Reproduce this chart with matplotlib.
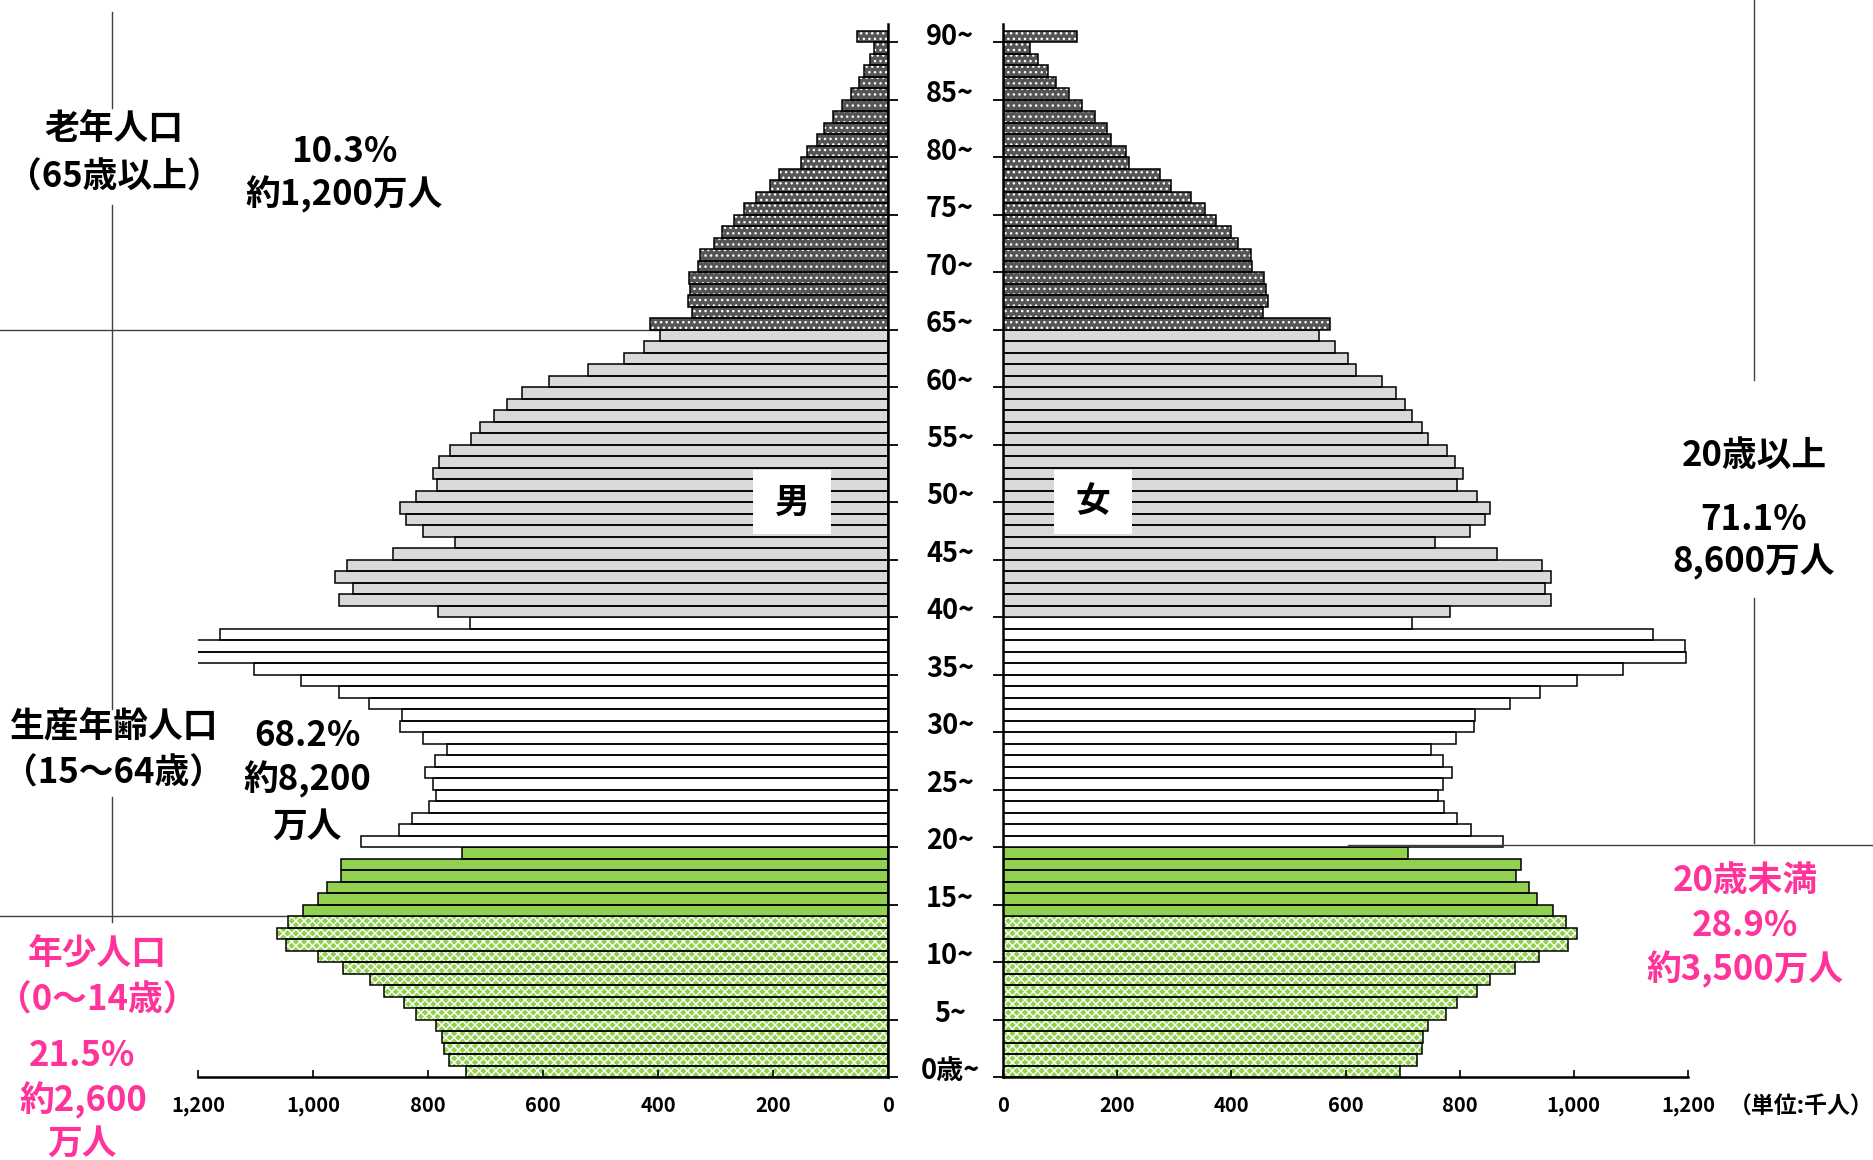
import matplotlib
matplotlib.use('Agg')
import matplotlib.pyplot as plt
from matplotlib import transforms
from matplotlib.lines import Line2D
from matplotlib.patches import Rectangle

plt.rcParams['font.family'] = ['Noto Sans CJK JP', 'DejaVu Sans']
plt.rcParams['font.weight'] = 'bold'
plt.rcParams['hatch.linewidth'] = 1.0

# 年齢（0歳〜90歳以上）
ages = list(range(0, 91))

# 男性人口（千人）, 0歳から90歳~
male = [734, 764, 772, 776, 786, 821, 842, 876, 900, 947,
        991, 1047, 1062, 1044, 1018, 992, 976, 951, 952, 740,
        917, 851, 827, 798, 786, 791, 806, 787, 767, 809,
        848, 845, 903, 955, 1021, 1103, 1225, 1220, 1162, 727,
        783, 955, 930, 961, 941, 860, 753, 808, 838, 849,
        821, 785, 792, 781, 762, 726, 709, 686, 662, 637,
        590, 522, 459, 424, 397, 414, 340, 347, 344, 346,
        330, 327, 303, 289, 267, 250, 230, 206, 189, 151,
        140, 123, 112, 95, 80, 64, 51, 42, 31, 24,
        54]

# 女性人口（千人）
female = [695, 726, 734, 735, 744, 776, 796, 831, 853, 897,
          939, 990, 1006, 987, 964, 935, 922, 899, 908, 710,
          876, 819, 796, 773, 762, 770, 787, 770, 750, 793,
          825, 827, 888, 941, 1006, 1086, 1196, 1194, 1138, 717,
          783, 960, 949, 960, 944, 865, 757, 818, 844, 853,
          831, 796, 806, 792, 777, 745, 734, 716, 704, 688,
          664, 618, 604, 581, 553, 573, 456, 465, 460, 458,
          437, 434, 412, 400, 373, 353, 329, 294, 275, 221,
          215, 190, 182, 161, 138, 116, 92, 79, 62, 47,
          129]

age_ticks = list(range(0, 91, 5))
age_labels = ['0歳~'] + ['%d~' % a for a in age_ticks[1:]]
x_ticks = [0, 200, 400, 600, 800, 1000, 1200]
x_labels = ['0', '200', '400', '600', '800', '1,000', '1,200']

# 年齢区分ごとの塗り (開始, 終了, 塗り色, ハッチ)
groups = [
    (0, 13, '#92D050', 'xxxx'),
    (14, 19, '#92D050', None),
    (20, 39, 'white', None),
    (40, 64, '#D9D9D9', None),
    (65, 90, '#555555', '...'),
]

W, H = 1874, 1160
fig = plt.figure(figsize=(W / 100, H / 100), dpi=100)
fig.patch.set_facecolor('white')


def fx(x):
    return x / W


def fy(y):
    return 1 - y / H


ax_m = fig.add_axes([fx(198), fy(1077), (888 - 198) / W, (1077 - 24) / H])
ax_f = fig.add_axes([fx(1003), fy(1077), (1688 - 1003) / W, (1077 - 24) / H])

for ax, vals in [(ax_m, male), (ax_f, female)]:
    ax.patch.set_visible(False)
    for lo, hi, fc, hatch in groups:
        a = ages[lo:hi + 1]
        v = vals[lo:hi + 1]
        if hatch:
            ax.barh(a, v, height=1, align='edge', color=fc, edgecolor='white',
                    hatch=hatch, linewidth=0)
        else:
            ax.barh(a, v, height=1, align='edge', color=fc, linewidth=0)
        ax.barh(a, v, height=1, align='edge', fill=False, edgecolor='black',
                linewidth=1.1)
    ax.set_ylim(0, 91.6)
    ax.set_yticks(age_ticks)
    ax.set_xticks(x_ticks)
    ax.set_xticklabels(x_labels)
    ax.tick_params(axis='x', direction='in', length=5, width=1.2, pad=13,
                   labelsize=14.5)
    ax.tick_params(axis='y', direction='out', length=7, width=1.3,
                   labelleft=False, labelright=False)
    ax.spines['top'].set_visible(False)
    for s in ax.spines.values():
        s.set_linewidth(1.8)

ax_m.set_xlim(1200, 0)
ax_m.spines['left'].set_visible(False)
ax_m.yaxis.tick_right()
ax_m.tick_params(axis='y', labelright=False)

ax_f.set_xlim(0, 1200)
ax_f.spines['right'].set_visible(False)

# 年齢ラベル（中央）
trans = transforms.blended_transform_factory(fig.transFigure, ax_m.transData)
for a, lab in zip(age_ticks, age_labels):
    fig.text(fx(950), a + 0.5, lab, transform=trans, ha='center',
             va='center', fontsize=19.5, fontweight='bold')

# 区分線
line_kw = dict(transform=fig.transFigure, color='#404040', linewidth=1.0)
for x0, y0, x1, y1 in [(112, 12, 112, 108), (112, 205, 112, 709),
                       (112, 797, 112, 922), (0, 330, 888, 330),
                       (0, 916, 888, 916)]:
    fig.add_artist(Line2D([fx(x0), fx(x1)], [fy(y0), fy(y1)], zorder=-1,
                          **line_kw))
for x0, y0, x1, y1 in [(1754, 0, 1754, 380), (1754, 598, 1754, 843),
                       (1348, 845, 1874, 845)]:
    fig.add_artist(Line2D([fx(x0), fx(x1)], [fy(y0), fy(y1)], zorder=5,
                          **line_kw))

# 男・女
for cx, lab in [(792, '男'), (1093, '女')]:
    fig.add_artist(Rectangle((fx(cx - 39), fy(534)), 78 / W, 64 / H,
                             transform=fig.transFigure, facecolor='white',
                             edgecolor='none', zorder=6))
    fig.text(fx(cx), fy(502), lab, ha='center', va='center', fontsize=25,
             fontweight='bold', zorder=7)

pink = '#FF3399'
texts = [
    (114, 129, '老年人口', 'black'),
    (114, 177, '（65歳以上）', 'black'),
    (344, 151, '10.3%', 'black'),
    (344, 194, '約1,200万人', 'black'),
    (114, 727, '生産年齢人口', 'black'),
    (114, 773, '（15～64歳）', 'black'),
    (307, 736, '68.2%', 'black'),
    (307, 779, '約8,200', 'black'),
    (307, 826, '万人', 'black'),
    (97, 954, '年少人口', pink),
    (97, 1000, '（0～14歳）', pink),
    (82, 1055, '21.5%', pink),
    (83, 1100, '約2,600', pink),
    (82, 1143, '万人', pink),
    (1754, 455, '20歳以上', 'black'),
    (1754, 519, '71.1%', 'black'),
    (1754, 562, '8,600万人', 'black'),
    (1745, 881, '20歳未満', pink),
    (1745, 925, '28.9%', pink),
    (1745, 969, '約3,500万人', pink),
]
for x, y, s, c in texts:
    fig.text(fx(x), fy(y), s, ha='center', va='center', fontsize=25,
             fontweight='bold', color=c)

fig.text(fx(1801), fy(1107), '（単位:千人）', ha='center', va='center',
         fontsize=16.5, fontweight='bold')

fig.savefig('out.png', dpi=100)
